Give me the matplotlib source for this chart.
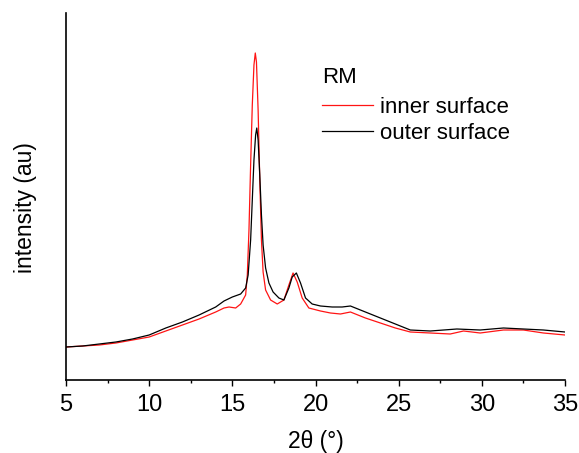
import matplotlib
matplotlib.use("Agg")
import matplotlib.pyplot as plt
from matplotlib.ticker import MultipleLocator, NullLocator

plt.rcParams['font.family'] = ['Liberation Sans', 'DejaVu Sans']

# Data (intensity in arbitrary units)
two_theta_inner = [5, 6, 7, 8, 9, 10, 11, 12, 13, 14, 14.5, 14.8, 15.2, 15.5, 15.8,
                   15.9, 16.0, 16.1, 16.2, 16.3, 16.38, 16.45, 16.55, 16.65, 16.75,
                   16.85, 17.0, 17.3, 17.7, 18.1, 18.4, 18.65, 18.9, 19.2, 19.6,
                   20.3, 20.9, 21.5, 22.1, 23.0, 23.9, 24.8, 25.7, 26.9, 28.1, 28.9,
                   29.9, 31.3, 32.5, 33.7, 35]
inner = [33, 34, 35, 37, 40, 43, 49, 55, 61, 68, 72, 73, 72, 76, 85,
         105, 150, 215, 275, 315, 327, 318, 270, 200, 140,
         108, 90, 80, 76, 80, 95, 107, 98, 82, 72,
         69, 67, 66, 68, 62, 57, 52, 48, 47, 46, 49,
         47, 50, 50, 47, 45]

two_theta_outer = [5, 6, 7, 8, 9, 10, 11, 12, 13, 14, 14.5, 15.0, 15.5, 15.8, 15.95,
                   16.1, 16.2, 16.3, 16.4, 16.47, 16.55, 16.65, 16.75, 16.85, 17.0,
                   17.2, 17.45, 17.8, 18.1, 18.4, 18.6, 18.85, 19.1, 19.4, 19.8,
                   20.3, 21.0, 21.6, 22.1, 23.0, 23.9, 24.8, 25.7, 26.9, 28.5, 29.9,
                   31.3, 32.5, 33.7, 35]
outer = [33, 34, 36, 38, 41, 45, 52, 58, 65, 73, 79, 83, 86, 92, 105,
         140, 180, 220, 245, 252, 240, 205, 165, 135, 112,
         97, 88, 82, 80, 92, 103, 107, 97, 82, 76,
         74, 73, 73, 74, 68, 62, 56, 50, 49, 51, 50,
         52, 51, 50, 48]

x_ticks = [5, 10, 15, 20, 25, 30, 35]

fig = plt.figure(figsize=(5.79, 4.53), dpi=100)
ax = fig.add_axes([66 / 579, 73 / 453, 499 / 579, 367 / 453])

ax.plot(two_theta_inner, inner, color='#ff1414', lw=0.9, label='inner surface')
ax.plot(two_theta_outer, outer, color='black', lw=0.9, label='outer surface')

ax.set_xlim(5, 35)
ax.set_ylim(0, 367)
ax.set_xticks(x_ticks)
ax.xaxis.set_minor_locator(MultipleLocator(2.5))
ax.yaxis.set_major_locator(NullLocator())
ax.tick_params(axis='x', which='major', direction='out', length=4, width=1,
               labelsize=17, pad=6)
ax.tick_params(axis='x', which='minor', direction='out', length=2.5, width=1)
for s in ['top', 'right']:
    ax.spines[s].set_visible(False)
for s in ['left', 'bottom']:
    ax.spines[s].set_linewidth(1.2)

ax.set_xlabel('2θ (°)', fontsize=16.5, labelpad=10)
ax.set_ylabel('intensity (au)', fontsize=16.5)
ax.yaxis.set_label_coords(-0.058, 0.471)

leg = ax.legend(title='RM', loc='upper left', bbox_to_anchor=(0.513, 0.852),
                frameon=False, fontsize=16, title_fontsize=16, borderpad=0,
                borderaxespad=0, handlelength=2.3, handletextpad=0.3,
                labelspacing=0.21)
leg._legend_box.align = 'left'
leg._legend_box.sep = 6.3

fig.savefig('out.png', dpi=100)
